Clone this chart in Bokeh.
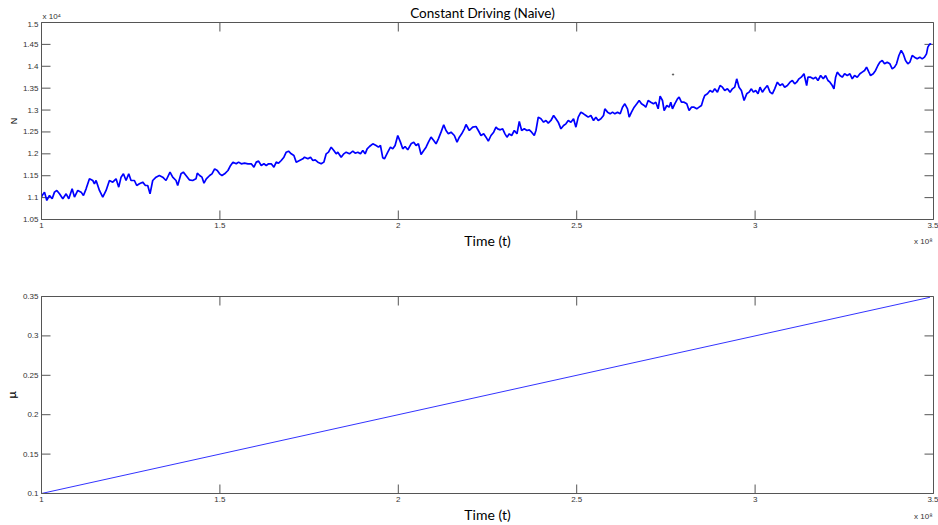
import math
from bokeh.plotting import figure
from bokeh.layouts import column
from bokeh.models import FixedTicker, Range1d, CustomJSTickFormatter
from bokeh.core.properties import value
from bokeh.embed import file_html
from bokeh.resources import INLINE

# ---------------- data (time in units of 1e8, N in units of 1e4) ----------------
time_1e8 = [
    1.0000, 1.0019, 1.0084, 1.0149, 1.0224, 1.0299, 1.0364, 1.0429, 1.0504, 1.0597,
    1.0691, 1.0765, 1.0859, 1.0924, 1.1017, 1.1111, 1.1176, 1.1250, 1.1344, 1.1437,
    1.1484, 1.1530, 1.1624, 1.1717, 1.1810, 1.1904, 1.1997, 1.2090, 1.2165, 1.2230,
    1.2296, 1.2370, 1.2445, 1.2510, 1.2604, 1.2669, 1.2744, 1.2837, 1.2912, 1.2977,
    1.3042, 1.3117, 1.3210, 1.3303, 1.3397, 1.3490, 1.3602, 1.3677, 1.3770, 1.3817,
    1.3910, 1.3975, 1.4050, 1.4143, 1.4237, 1.4330,
    1.4367, 1.4433, 1.4498, 1.4554, 1.4619, 1.4713, 1.4778, 1.4853, 1.4927, 1.4993,
    1.5058, 1.5132, 1.5226, 1.5300, 1.5366, 1.5459, 1.5524, 1.5599, 1.5692, 1.5786,
    1.5879, 1.5954, 1.6019, 1.6084, 1.6159, 1.6234, 1.6299, 1.6364, 1.6439, 1.6514,
    1.6579, 1.6644, 1.6719, 1.6794, 1.6859, 1.6924, 1.6999, 1.7074, 1.7139, 1.7232,
    1.7326, 1.7372, 1.7466, 1.7540, 1.7606, 1.7671, 1.7745, 1.7839, 1.7913, 1.7979,
    1.8044, 1.8119, 1.8193, 1.8259, 1.8305, 1.8399, 1.8473, 1.8539,
    1.8632, 1.8725, 1.8791, 1.8865, 1.8940, 1.9005, 1.9071, 1.9127, 1.9192, 1.9285,
    1.9378, 1.9444, 1.9500, 1.9565, 1.9612, 1.9705, 1.9780, 1.9845, 1.9910, 1.9985,
    2.0060, 2.0125, 2.0190, 2.0265, 2.0358, 2.0433, 2.0498, 2.0564, 2.0638, 2.0713,
    2.0778, 2.0844, 2.0918, 2.0993, 2.1058, 2.1123, 2.1198, 2.1273, 2.1338, 2.1403,
    2.1478, 2.1571, 2.1646, 2.1711, 2.1777, 2.1851, 2.1898, 2.1991, 2.2085, 2.2178,
    2.2243, 2.2318, 2.2393, 2.2458, 2.2523, 2.2598, 2.2673, 2.2738,
    2.2785, 2.2859, 2.2925, 2.2990, 2.3046, 2.3111, 2.3177, 2.3251, 2.3326, 2.3391,
    2.3457, 2.3531, 2.3606, 2.3671, 2.3737, 2.3811, 2.3858, 2.3923, 2.3998, 2.4072,
    2.4138, 2.4203, 2.4278, 2.4353, 2.4418, 2.4483, 2.4558, 2.4632, 2.4698, 2.4763,
    2.4838, 2.4912, 2.4978, 2.5043, 2.5118, 2.5192, 2.5258, 2.5323, 2.5397, 2.5472,
    2.5538, 2.5603, 2.5678, 2.5752, 2.5789, 2.5864, 2.5939, 2.6004, 2.6069, 2.6144,
    2.6219, 2.6284, 2.6349, 2.6424, 2.6471, 2.6536, 2.6611, 2.6685, 2.6751, 2.6816,
    2.6891,
    2.6937, 2.7003, 2.7077, 2.7152, 2.7217, 2.7283, 2.7338, 2.7404, 2.7451, 2.7525,
    2.7590, 2.7637, 2.7684, 2.7749, 2.7824, 2.7870, 2.7936, 2.8010, 2.8085, 2.8150,
    2.8216, 2.8290, 2.8365, 2.8430, 2.8496, 2.8552, 2.8589, 2.8664, 2.8738, 2.8804,
    2.8869, 2.8944, 2.9018, 2.9084, 2.9149, 2.9224, 2.9298, 2.9364, 2.9429, 2.9485,
    2.9550, 2.9616, 2.9691, 2.9765, 2.9830, 2.9896, 2.9952, 3.0017, 3.0082, 3.0138,
    3.0204, 3.0269, 3.0344, 3.0418, 3.0484, 3.0549, 3.0624, 3.0698, 3.0764, 3.0829,
    3.0904, 3.0978, 3.1044, 3.1109,
    3.1165, 3.1230, 3.1295, 3.1370, 3.1445, 3.1482, 3.1557, 3.1631, 3.1697, 3.1762,
    3.1837, 3.1911, 3.1976, 3.2042, 3.2098, 3.2163, 3.2210, 3.2257, 3.2303, 3.2378,
    3.2443, 3.2508, 3.2583, 3.2658, 3.2723, 3.2788, 3.2863, 3.2938, 3.3003, 3.3068,
    3.3124, 3.3190, 3.3236, 3.3311, 3.3376, 3.3441, 3.3497, 3.3563, 3.3628, 3.3703,
    3.3777, 3.3843, 3.3908, 3.3964, 3.4030, 3.4095, 3.4151, 3.4216, 3.4281, 3.4337,
    3.4403, 3.4468, 3.4543, 3.4617, 3.4683, 3.4748, 3.4804, 3.4841, 3.4897, 3.4935,
]

n_1e4 = [
    1.1010, 1.1049, 1.1125, 1.0935, 1.1049, 1.0973, 1.1125, 1.1163, 1.1087, 1.0973,
    1.1087, 1.0973, 1.1201, 1.1011, 1.1163, 1.1125, 1.1049, 1.1201, 1.1429, 1.1391,
    1.1315, 1.1391, 1.1163, 1.1011, 1.1163, 1.1391, 1.1353, 1.1429, 1.1239, 1.1467,
    1.1544, 1.1391, 1.1544, 1.1391, 1.1391, 1.1277, 1.1315, 1.1353, 1.1277, 1.1277,
    1.1087, 1.1391, 1.1467, 1.1506, 1.1467, 1.1391, 1.1582, 1.1467, 1.1391, 1.1277,
    1.1544, 1.1582, 1.1506, 1.1407, 1.1391, 1.1429,
    1.1559, 1.1505, 1.1467, 1.1330, 1.1429, 1.1505, 1.1543, 1.1657, 1.1619, 1.1543,
    1.1505, 1.1543, 1.1619, 1.1734, 1.1810, 1.1772, 1.1810, 1.1772, 1.1787, 1.1772,
    1.1772, 1.1696, 1.1810, 1.1833, 1.1734, 1.1772, 1.1734, 1.1772, 1.1772, 1.1696,
    1.1810, 1.1787, 1.1848, 1.1924, 1.2038, 1.2061, 1.2000, 1.1962, 1.1810, 1.1848,
    1.1886, 1.1924, 1.1886, 1.1924, 1.1848, 1.1863, 1.1810, 1.1772, 1.1810, 1.2000,
    1.2038, 1.2152, 1.2076, 1.2000, 1.2038, 1.1924, 1.2000, 1.2038,
    1.2000, 1.2061, 1.2015, 1.2038, 1.2000, 1.2076, 1.2000, 1.2114, 1.2168, 1.2229,
    1.2190, 1.2152, 1.2190, 1.1909, 1.1886, 1.2038, 1.2152, 1.2114, 1.2190, 1.2419,
    1.2267, 1.2114, 1.2168, 1.2092, 1.2229, 1.2267, 1.2190, 1.2229, 1.1985, 1.2076,
    1.2152, 1.2267, 1.2381, 1.2305, 1.2229, 1.2343, 1.2495, 1.2663, 1.2533, 1.2457,
    1.2495, 1.2419, 1.2267, 1.2381, 1.2457, 1.2571, 1.2670, 1.2533, 1.2609, 1.2625,
    1.2533, 1.2419, 1.2457, 1.2381, 1.2290, 1.2419, 1.2495, 1.2609,
    1.2571, 1.2548, 1.2571, 1.2457, 1.2381, 1.2457, 1.2419, 1.2533, 1.2457, 1.2739,
    1.2533, 1.2571, 1.2533, 1.2548, 1.2495, 1.2419, 1.2533, 1.2838, 1.2800, 1.2723,
    1.2762, 1.2701, 1.2762, 1.2876, 1.2800, 1.2723, 1.2571, 1.2647, 1.2685, 1.2762,
    1.2723, 1.2800, 1.2609, 1.2838, 1.2952, 1.2914, 1.2876, 1.2838, 1.2876, 1.2762,
    1.2838, 1.2762, 1.2800, 1.2876, 1.3028, 1.2952, 1.2914, 1.2952, 1.2914, 1.2952,
    1.2914, 1.3066, 1.3142, 1.3028, 1.2838, 1.2952, 1.3066, 1.3142, 1.3218, 1.3142,
    1.3104,
    1.3066, 1.3218, 1.3180, 1.3142, 1.3180, 1.3028, 1.3317, 1.3218, 1.2990, 1.3104,
    1.3066, 1.3180, 1.3028, 1.3142, 1.3256, 1.3294, 1.3180, 1.3180, 1.3142, 1.2990,
    1.3066, 1.3066, 1.3028, 1.3066, 1.3104, 1.3256, 1.3333, 1.3371, 1.3447, 1.3409,
    1.3485, 1.3409, 1.3561, 1.3523, 1.3447, 1.3485, 1.3409, 1.3485, 1.3523, 1.3713,
    1.3523, 1.3447, 1.3218, 1.3371, 1.3409, 1.3485, 1.3409, 1.3447, 1.3371, 1.3523,
    1.3409, 1.3485, 1.3561, 1.3409, 1.3371, 1.3485, 1.3637, 1.3561, 1.3599, 1.3523,
    1.3561, 1.3637, 1.3675, 1.3599,
    1.3637, 1.3713, 1.3751, 1.3828, 1.3561, 1.3751, 1.3751, 1.3713, 1.3751, 1.3675,
    1.3789, 1.3713, 1.3789, 1.3675, 1.3637, 1.3561, 1.3485, 1.3751, 1.3866, 1.3789,
    1.3751, 1.3828, 1.3789, 1.3828, 1.3713, 1.3789, 1.3751, 1.3828, 1.3866, 1.3904,
    1.3980, 1.3866, 1.3789, 1.3828, 1.3904, 1.4018, 1.4094, 1.4132, 1.4056, 1.4094,
    1.4056, 1.3942, 1.3980, 1.4056, 1.4246, 1.4361, 1.4284, 1.4132, 1.4056, 1.4094,
    1.4246, 1.4208, 1.4170, 1.4208, 1.4170, 1.4208, 1.4284, 1.4437, 1.4513, 1.4497,
]

stray_t = [2.770]
stray_n = [1.3812]

mu_t = [1.0, 3.49]
mu_val = [0.1, 0.349]

x_ticks = [1.0, 1.5, 2.0, 2.5, 3.0, 3.5]
x_tick_labels = ["1", "1.5", "2", "2.5", "3", "3.5"]
n_ticks = [1.05, 1.1, 1.15, 1.2, 1.25, 1.3, 1.35, 1.4, 1.45, 1.5]
n_tick_labels = ["1.05", "1.1", "1.15", "1.2", "1.25", "1.3", "1.35", "1.4", "1.45", "1.5"]
mu_ticks = [0.1, 0.15, 0.2, 0.25, 0.3, 0.35]
mu_tick_labels = ["0.1", "0.15", "0.2", "0.25", "0.3", "0.35"]

title_text = "Constant Driving (Naive)"
x_label = "Time (t)"
n_exponent = "x 10\u2074"
t_exponent = "x 10\u2078"

AX_COLOR = "#555555"
TXT_COLOR = "#333333"
TICK_FONT = "Liberation Sans"
LABEL_FONT = "Lato"
W = 938
LB, RB = 40, 5


def fmt(tv, tl):
    return CustomJSTickFormatter(
        args=dict(tv=tv, tl=tl),
        code="const i = tv.findIndex(t => Math.abs(t - tick) < 1e-9); return i >= 0 ? tl[i] : '';",
    )


def style_axis(ax, tv, tl, standoff):
    ax.ticker = FixedTicker(ticks=tv)
    ax.formatter = fmt(tv, tl)
    ax.major_tick_line_color = None
    ax.minor_tick_line_color = None
    ax.major_tick_in = 0
    ax.major_tick_out = 0
    ax.minor_tick_in = 0
    ax.minor_tick_out = 0
    ax.axis_line_color = AX_COLOR
    ax.major_label_text_font = TICK_FONT
    ax.major_label_text_color = TXT_COLOR
    ax.major_label_text_font_size = "8px"
    ax.major_label_standoff = standoff


def strip(height, xr):
    s = figure(width=W, height=height, output_backend="svg", toolbar_location=None,
               x_range=xr, y_range=Range1d(0, height),
               x_axis_location=None, y_axis_location=None,
               min_border_left=LB, min_border_right=RB, min_border_top=0, min_border_bottom=0)
    s.grid.visible = False
    s.outline_line_color = None
    s.background_fill_color = "white"
    s.border_fill_color = "white"
    return s


def make_fig(height, yr, yticks, ylabels, ylabel, ylabel_size, ylabel_font, top, bottom):
    p = figure(width=W, height=height, output_backend="svg", toolbar_location=None,
               x_range=Range1d(1, 3.5), y_range=yr,
               min_border_left=LB, min_border_right=RB,
               min_border_top=top, min_border_bottom=bottom,
               y_axis_label=ylabel)
    p.grid.visible = False
    p.outline_line_color = AX_COLOR
    p.background_fill_color = "white"
    p.border_fill_color = "white"
    style_axis(p.xaxis[0], x_ticks, x_tick_labels, 3)
    style_axis(p.yaxis[0], yticks, ylabels, 3)
    p.yaxis.axis_label_text_font = ylabel_font
    p.yaxis.axis_label_text_font_size = ylabel_size
    p.yaxis.axis_label_text_font_style = "normal"
    p.yaxis.axis_label_text_color = "black"
    p.yaxis.axis_label_standoff = 1
    # inward tick marks on all four sides (half of each dash is clipped by the frame)
    x0, x1 = p.x_range.start, p.x_range.end
    y0, y1 = yr.start, yr.end
    for yy in (y0, y1):
        p.scatter(x_ticks, [yy] * len(x_ticks), marker="dash", angle=math.pi / 2, size=18,
                  line_color=AX_COLOR, line_width=1)
    for xx in (x0, x1):
        p.scatter([xx] * len(yticks), yticks, marker="dash", angle=0, size=18,
                  line_color=AX_COLOR, line_width=1)
    return p


p1 = make_fig(211, Range1d(1.05, 1.5), n_ticks, n_tick_labels, "N", "9px", TICK_FONT, 1, 13)

# header strip: title + exponent of N
head = strip(21, p1.x_range)
head.text(x=[2.25], y=[9], text=[title_text], text_font=value(LABEL_FONT), text_font_size="13.5px",
          text_color="black", text_align="center", text_baseline="middle", x_offset=-5)
head.text(x=[1.0], y=[5], text=[n_exponent], text_font=value(TICK_FONT), text_font_size="8px",
          text_color=TXT_COLOR, text_align="left", text_baseline="middle", x_offset=1)

p1.line(time_1e8, n_1e4, line_color="#0000ff", line_width=1.7)
p1.scatter(stray_t, stray_n, size=1.3, color="#555555")

s1 = strip(28, p1.x_range)
s1.text(x=[2.25], y=[20.5], text=[x_label], text_font=value(LABEL_FONT), text_font_size="14px",
        text_color="black", text_align="center", text_baseline="middle")
s1.text(x=[3.5], y=[19], text=[t_exponent], text_font=value(TICK_FONT), text_font_size="8px",
        text_color=TXT_COLOR, text_align="right", text_baseline="middle", x_offset=-1)

p2 = make_fig(246, Range1d(0.1, 0.35), mu_ticks, mu_tick_labels, "μ", "12px", LABEL_FONT, 36, 13)
p2.line(mu_t, mu_val, line_color="#3333ff", line_width=1)

s2 = strip(19, p2.x_range)
s2.text(x=[2.25], y=[11.5], text=[x_label], text_font=value(LABEL_FONT), text_font_size="14px",
        text_color="black", text_align="center", text_baseline="middle")
s2.text(x=[3.5], y=[9], text=[t_exponent], text_font=value(TICK_FONT), text_font_size="8px",
        text_color=TXT_COLOR, text_align="right", text_baseline="middle", x_offset=-1)

layout = column(head, p1, s1, p2, s2, spacing=0)
open("out.html", "w").write(file_html(layout, INLINE))
